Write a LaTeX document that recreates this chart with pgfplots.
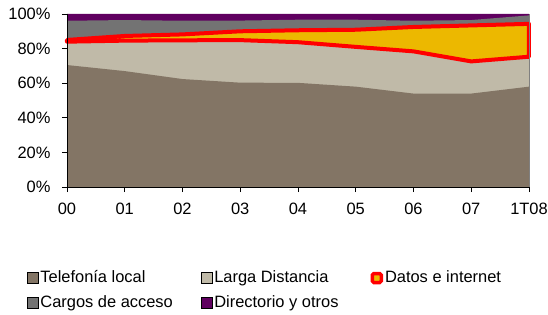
\documentclass[border=0pt]{standalone}
\usepackage{fontspec}
\setmainfont{Liberation Sans}
\usepackage{pgfplots}
\pgfplotsset{compat=1.18}
\usepackage{pgfplotstable}
\definecolor{ctel}{RGB}{131,117,101}
\definecolor{clar}{RGB}{192,186,168}
\definecolor{cdat}{RGB}{236,184,0}
\definecolor{ccar}{RGB}{115,115,115}
\definecolor{cdir}{RGB}{96,0,96}
% cumulative shares (percent)
\pgfplotstableread{
x tel lar dat car dir
0 70.5 84.0 85.0 96.1 100
1 67.0 84.6 87.3 96.5 100
2 62.4 84.8 88.2 96.1 100
3 60.3 84.9 90.0 96.2 100
4 60.2 83.7 90.6 96.7 100
5 58.0 81.0 90.9 96.7 100
6 54.0 78.4 92.5 96.1 100
7 54.0 72.6 93.4 96.5 100
8 58.0 75.3 94.3 99.2 100
}\cum
\begin{document}
\begin{tikzpicture}
\useasboundingbox (0,0) rectangle (548bp,315bp);
\begin{axis}[
  at={(67bp,128bp)}, anchor=south west,
  scale only axis, width=462bp, height=173bp,
  xmin=0, xmax=8, ymin=0, ymax=100,
  enlargelimits=false, clip=false,
  axis on top,
  axis lines*=left,
  axis line style={-, black},
  tick align=outside,
  major tick length=5bp,
  tick style={black, line width=0.6bp},
  xtick={0,...,8},
  xticklabels={00,01,02,03,04,05,06,07,1T08},
  ytick={0,20,40,60,80,100},
  yticklabels={0\%,20\%,40\%,60\%,80\%,100\%},
  xticklabel shift=8bp,
  yticklabel shift=8bp,
  tick label style={font=\fontsize{16.5}{19}\selectfont},
  legend columns=3,
  legend cell align=left,
  legend image code/.code={\fill[#1] (0bp,-5.5bp) rectangle (11bp,5.5bp);},
  legend style={
    at={(-0.0866,-0.474)}, anchor=north west,
    draw=none, fill=none, inner sep=0pt, outer sep=0pt,
    font=\fontsize{16.5}{19}\selectfont,
    nodes={inner sep=1bp, text height=12bp, text depth=4bp},
    row sep=7bp,
    /tikz/column 1/.style={column sep=1bp},
    /tikz/column 2/.style={column sep=27bp},
    /tikz/column 3/.style={column sep=1bp},
    /tikz/column 4/.style={column sep=31bp},
    /tikz/column 5/.style={column sep=1bp},
  },
]
\addlegendimage{fill=ctel}
\addlegendentry{Telefonía local}
\addlegendimage{fill=clar}
\addlegendentry{Larga Distancia}
\addlegendimage{legend image code/.code={\filldraw[fill=cdat, draw=red, line width=3.5bp, rounded corners=1.5bp] (1.5bp,-4.5bp) rectangle (10.5bp,4.5bp);}}
\addlegendentry{Datos e internet}
\addlegendimage{fill=ccar}
\addlegendentry{Cargos de acceso}
\addlegendimage{fill=cdir}
\addlegendentry{Directorio y otros}

\addplot[fill=cdir, draw=none, forget plot] table[x=x, y=dir] {\cum} \closedcycle;
\addplot[fill=ccar, draw=none, forget plot] table[x=x, y=car] {\cum} \closedcycle;
\addplot[fill=cdat, draw=none, forget plot] table[x=x, y=dat] {\cum} \closedcycle;
\addplot[fill=clar, draw=none, forget plot] table[x=x, y=lar] {\cum} \closedcycle;
\addplot[fill=ctel, draw=none, forget plot] table[x=x, y=tel] {\cum} \closedcycle;
% outline of "Datos e internet" band
\addplot[draw=red, line width=4bp, fill=none, line join=round, forget plot] coordinates {
 (0,84.0) (1,84.6) (2,84.8) (3,84.9) (4,83.7) (5,81.0) (6,78.4) (7,72.6) (8,75.3)
 (8,94.3) (7,93.4) (6,92.5) (5,90.9) (4,90.6) (3,90.0) (2,88.2) (1,87.3) (0,85.0)
} -- cycle;
\draw[gray, line width=0.8bp] (rel axis cs:1,0) -- (rel axis cs:1,1);
\end{axis}
\end{tikzpicture}
\end{document}
